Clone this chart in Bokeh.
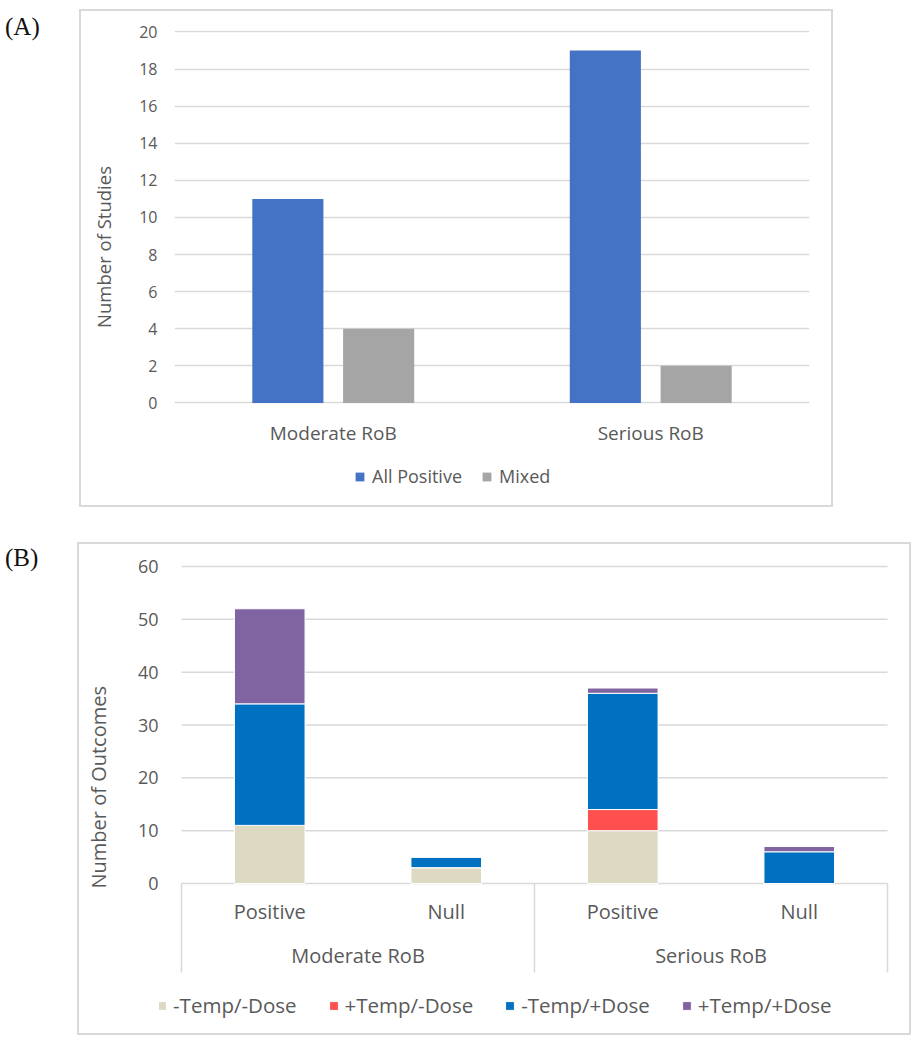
from bokeh.plotting import figure
from bokeh.models import (ColumnDataSource, FactorRange, Range1d, FixedTicker, Legend, LegendItem,
                          Div, Spacer, CategoricalAxis)
from bokeh.layouts import column, row
from bokeh.transform import dodge
from bokeh.embed import file_html
from bokeh.resources import INLINE

# ---------------- data ----------------
rob_levels = ["Moderate RoB", "Serious RoB"]
series_a = ["All Positive", "Mixed"]
all_positive = [11, 19]
mixed = [4, 2]
ticks_a = [0, 2, 4, 6, 8, 10, 12, 14, 16, 18, 20]

findings = ["Positive", "Null"]
series_b = ["-Temp/-Dose", "+Temp/-Dose", "-Temp/+Dose", "+Temp/+Dose"]
neg_temp_neg_dose = [11, 3, 10, 0]
pos_temp_neg_dose = [0, 0, 4, 0]
neg_temp_pos_dose = [23, 2, 22, 6]
pos_temp_pos_dose = [18, 0, 1, 1]
ticks_b = [0, 10, 20, 30, 40, 50, 60]

# ---------------- style ----------------
FONT = "Open Sans"
TXT = "#595959"
GRID = "#d9d9d9"
FRAME = "2px solid #d9d9d9"
colors_a = ["#4472C4", "#A5A5A5"]
colors_b = ["#DDD9C3", "#FF5050", "#0070C0", "#8064A2"]


def style_axis(ax, size, standoff):
    ax.axis_line_color = None
    ax.major_tick_line_color = None
    ax.minor_tick_line_color = None
    ax.major_tick_out = 0
    ax.major_tick_in = 0
    ax.major_label_text_font = FONT
    ax.major_label_text_font_size = size
    ax.major_label_text_color = TXT
    ax.major_label_standoff = standoff


def y_title(text, size, left, top, w, h):
    html = ('<div style="position:relative;width:{w}px;height:{h}px">'
            '<div style="position:absolute;left:{l}px;top:{t}px;writing-mode:vertical-rl;'
            'transform:rotate(180deg);white-space:nowrap;line-height:1;'
            'font-family:\'Open Sans\';font-size:{s}px;color:{c}">{x}</div></div>'
            ).format(w=w, h=h, l=left, t=top, s=size, c=TXT, x=text)
    return Div(text=html, width=w, height=h, margin=0)


# ---------------- chart A ----------------
pA = figure(x_range=FactorRange(*rob_levels), y_range=Range1d(-5.53, 20.08),
            width=705, height=494, output_backend="svg", toolbar_location=None,
            min_border_left=48, min_border_right=22, min_border_top=19, min_border_bottom=0,
            outline_line_color=None)

srcA = ColumnDataSource(dict(cat=rob_levels, all_positive=all_positive, mixed=mixed))
offsets_a = [-0.143, 0.143]
rA = []
for key, col, off in zip(["all_positive", "mixed"], colors_a, offsets_a):
    rA.append(pA.vbar(x=dodge("cat", off, range=pA.x_range), top=key, width=0.224,
                      source=srcA, fill_color=col, line_color=None))

xa = pA.xaxis[0]
xa.fixed_location = 0
style_axis(xa, "19px", 17)
style_axis(pA.yaxis[0], "16px", 17)
tkA = FixedTicker(ticks=ticks_a)
pA.yaxis[0].ticker = tkA
pA.ygrid.ticker = tkA
pA.xgrid.visible = False
pA.ygrid.grid_line_color = GRID
pA.ygrid.grid_line_width = 1.5

legA = Legend(items=[LegendItem(label=s, renderers=[r]) for s, r in zip(series_a, rA)],
              orientation="horizontal", location=(180, 17), border_line_color=None,
              background_fill_alpha=0, glyph_width=11, glyph_height=11, label_standoff=7,
              spacing=19, padding=5, margin=0, label_text_font=FONT,
              label_text_font_size="18px", label_text_color=TXT)
pA.add_layout(legA)

# ---------------- chart B ----------------
factors_b = [(g, f) for g in rob_levels for f in findings]
keys_b = ["neg_temp_neg_dose", "pos_temp_neg_dose", "neg_temp_pos_dose", "pos_temp_pos_dose"]
srcB = ColumnDataSource(dict(x=factors_b,
                             neg_temp_neg_dose=neg_temp_neg_dose,
                             pos_temp_neg_dose=pos_temp_neg_dose,
                             neg_temp_pos_dose=neg_temp_pos_dose,
                             pos_temp_pos_dose=pos_temp_pos_dose))

pB = figure(x_range=FactorRange(*factors_b, factor_padding=0, group_padding=0,
                                range_padding=0.0623),
            y_range=Range1d(-28.39, 60.38),
            width=785, height=489, output_backend="svg", toolbar_location=None,
            min_border_left=35, min_border_right=0, min_border_top=20, min_border_bottom=0,
            outline_line_color=None)

n_b = len(factors_b)
# horizontal gridlines over the category span only
pB.segment(x0=[0] * len(ticks_b), y0=ticks_b, x1=[n_b] * len(ticks_b), y1=ticks_b,
           line_color=GRID, line_width=1.5)

rB = pB.vbar_stack(keys_b, x="x", width=0.40, fill_color=colors_b, line_color="white",
                   line_width=1, source=srcB)

# category box lines (group boundaries), dropping below the zero line
box_depth = -16.85
bounds = [0, len(findings), n_b]
pB.segment(x0=bounds, y0=[0] * len(bounds), x1=bounds, y1=[box_depth] * len(bounds),
           line_color=GRID, line_width=1.5)

# level 1 labels (Positive / Null)
xb = pB.xaxis[0]
xb.fixed_location = 0
style_axis(xb, "20px", 14)
xb.group_text_alpha = 0
xb.separator_line_alpha = 0

# level 2 labels (Moderate RoB / Serious RoB)
xb2 = CategoricalAxis(fixed_location=0)
style_axis(xb2, "20px", 58)
xb2.major_label_text_alpha = 0
xb2.group_text_font = FONT
xb2.group_text_font_size = "20px"
xb2.group_text_color = TXT
xb2.group_text_font_style = "normal"
xb2.separator_line_alpha = 0
pB.add_layout(xb2, "below")

style_axis(pB.yaxis[0], "18px", 1)
pB.yaxis[0].ticker = FixedTicker(ticks=ticks_b)
pB.xgrid.visible = False
pB.ygrid.visible = False

legB = Legend(items=[LegendItem(label=s, renderers=[r]) for s, r in zip(series_b, rB)],
              orientation="horizontal", location=(-3, 14), border_line_color=None,
              background_fill_alpha=0, glyph_width=11, glyph_height=11, label_standoff=6,
              spacing=31, padding=3, margin=0, label_text_font=FONT,
              label_text_font_size="20.5px", label_text_color=TXT)
pB.add_layout(legB)

# ---------------- panel labels, axis titles & layout ----------------
lab = ('<div style="font-family:\'Liberation Serif\';font-size:25px;color:#111;'
       'line-height:1;position:relative;top:{pt}px">{t}</div>')
divA = Div(text=lab.format(pt=7, t="(A)"), width=69, height=40)
divB = Div(text=lab.format(pt=-2, t="(B)"), width=67, height=40)

titleA = y_title("Number of Studies", 18.5, 14, 155, 45, 494)
titleB = y_title("Number of Outcomes", 20, 10, 142, 45, 489)

boxA = row(titleA, pA, styles={"border": FRAME}, margin=(7, 0, 0, 0))
boxB = row(titleB, pB, styles={"border": FRAME})

layout = column(Spacer(width=10, height=2), row(divA, boxA),
                Spacer(width=10, height=35), row(divB, boxB))

open("out.html", "w").write(file_html(layout, INLINE))
